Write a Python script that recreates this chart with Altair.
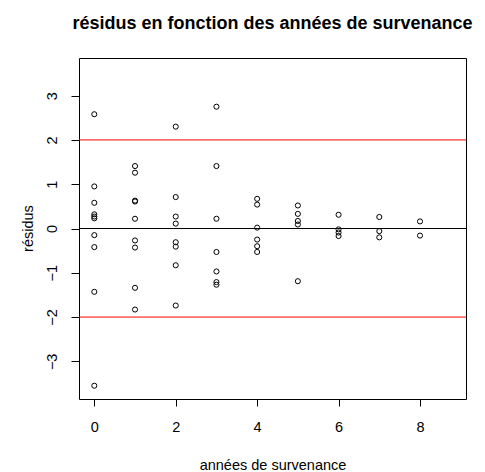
import altair as alt
import pandas as pd

# residuals, grouped by accident year
annees = [0]*10 + [1]*9 + [2]*8 + [3]*7 + [4]*6 + [5]*5 + [6]*4 + [7]*3 + [8]*2
residus = [
    2.58, 0.95, 0.58, 0.32, 0.27, 0.23, -0.15, -0.42, -1.43, -3.55,
    1.41, 1.26, 0.63, 0.61, 0.22, -0.27, -0.43, -1.34, -1.83,
    2.30, 0.71, 0.27, 0.11, -0.31, -0.41, -0.83, -1.74,
    2.75, 1.41, 0.22, -0.53, -0.97, -1.21, -1.27,
    0.67, 0.54, 0.02, -0.25, -0.40, -0.53,
    0.52, 0.33, 0.17, 0.09, -1.19,
    0.31, -0.02, -0.09, -0.17,
    0.26, -0.06, -0.20,
    0.16, -0.16,
]
ref_values = [0, 2, -2]
ref_colors = ["#000000", "#FF0000", "#FF0000"]
x_ticks = [0, 2, 4, 6, 8]
y_ticks = [-3, -2, -1, 0, 1, 2, 3]

df = pd.DataFrame({"annee": annees, "residu": residus})
ref = pd.DataFrame({"y": ref_values, "c": ref_colors})

FONT = "Liberation Sans"
xscale = alt.Scale(domain=[-0.376, 9.13], nice=False, zero=False)
yscale = alt.Scale(domain=[-3.85, 3.85], nice=False, zero=False)

points = alt.Chart(df).mark_point(
    shape="circle", filled=False, color="black", size=26, strokeWidth=1, opacity=1
).encode(
    x=alt.X("annee:Q", scale=xscale,
            axis=alt.Axis(values=x_ticks, title="années de survenance", grid=False,
                          domain=False, tickSize=7, tickColor="black", labelPadding=14,
                          labelFontSize=14.5, labelFont=FONT, labelColor="black",
                          titleFont=FONT, titleFontSize=14.5, titleFontWeight="normal",
                          titleColor="black", titleY=70, titleBaseline="alphabetic")),
    y=alt.Y("residu:Q", scale=yscale,
            axis=alt.Axis(values=y_ticks, title="résidus", grid=False,
                          domain=False, tickSize=8, tickColor="black", labelPadding=19,
                          labelAngle=-90, labelAlign="center", labelBaseline="middle",
                          labelFontSize=14.5, labelFont=FONT, labelColor="black",
                          titleFont=FONT, titleFontSize=14.5, titleFontWeight="normal",
                          titleColor="black", titleAngle=-90, titleX=-51, titleY=170,
                          titleBaseline="middle", titleAlign="center")),
)

rules = alt.Chart(ref).mark_rule(strokeWidth=1).encode(
    y=alt.Y("y:Q", scale=yscale),
    color=alt.Color("c:N", scale=None),
)

chart = alt.layer(rules, points).properties(
    width=387, height=341,
    autosize=alt.AutoSizeParams(type="none"),
    padding={"left": 71, "top": 50, "right": 11, "bottom": 72},
    title=alt.TitleParams("résidus en fonction des années de survenance",
                          font=FONT, fontSize=18, fontWeight="bold", color="black",
                          anchor="middle", offset=25),
).configure_view(stroke="black", strokeWidth=1)

chart.save("out.html", embed_options={"renderer": "svg", "actions": False})
